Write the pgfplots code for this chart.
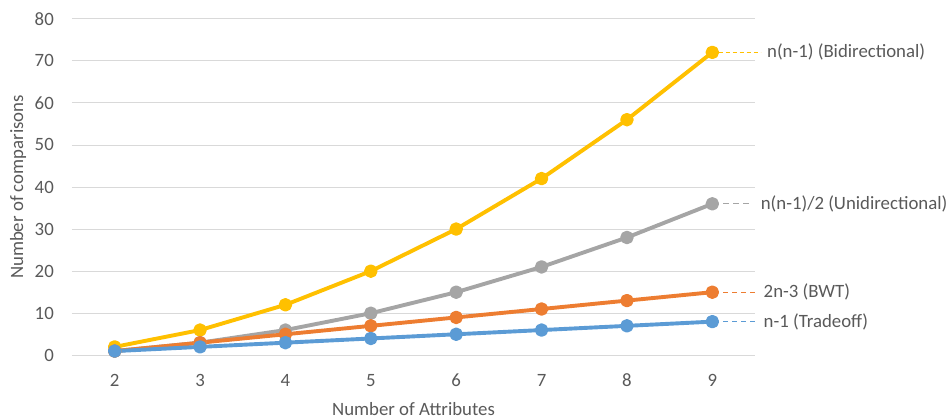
\documentclass[border=0pt]{standalone}
\usepackage{fontspec}
\setmainfont{Carlito}
\usepackage{pgfplots}
\pgfplotsset{compat=1.18}
\definecolor{cyel}{HTML}{FFC000}
\definecolor{cgray}{HTML}{A5A5A5}
\definecolor{corange}{HTML}{ED7D31}
\definecolor{cblue}{HTML}{5B9BD5}
\definecolor{gridc}{HTML}{D9D9D9}
\definecolor{tickc}{HTML}{595959}
\newcommand{\cfont}{\fontsize{18.8bp}{22bp}\selectfont}
\begin{document}
\begin{tikzpicture}
\begin{axis}[
 scale only axis, width=683bp, height=336.6bp,
 xmin=1.5, xmax=9.5, ymin=0, ymax=80,
 xtick={2,3,4,5,6,7,8,9}, ytick={0,10,20,30,40,50,60,70,80},
 ymajorgrids, grid style={draw=gridc, line width=0.75bp},
 axis line style={draw=none}, major tick length=0pt,
 tick label style={font=\cfont, text=tickc, inner sep=0pt},
 yticklabel style={anchor=east, xshift=-18bp},
 xticklabel style={anchor=base, yshift=-31.4bp},
 /pgf/number format/assume math mode=true,
 clip=false,
 every axis plot/.append style={line width=3.9bp, line join=round, line cap=round, mark=*, mark size=4.8bp, mark options={solid, line width=0.8bp}},
]
\coordinate (sw) at (rel axis cs:0,0);
\addplot[cyel, mark options={fill=cyel}] coordinates {(2,2) (3,6) (4,12) (5,20) (6,30) (7,42) (8,56) (9,72)};
\addplot[cgray, mark options={fill=cgray}] coordinates {(2,1) (3,3) (4,6) (5,10) (6,15) (7,21) (8,28) (9,36)};
\addplot[corange, mark options={fill=corange}] coordinates {(2,1) (3,3) (4,5) (5,7) (6,9) (7,11) (8,13) (9,15)};
\addplot[cblue, mark options={fill=cblue}] coordinates {(2,1) (3,2) (4,3) (5,4) (6,5) (7,6) (8,7) (9,8)};
\draw[cyel, line width=0.75bp, dash pattern=on 4bp off 3bp] (axis cs:9.074,72) -- (axis cs:9.566,72);
\draw[cgray, line width=0.75bp, dash pattern=on 6bp off 4bp] (axis cs:9.13,36) -- (axis cs:9.43,36);
\draw[corange, line width=0.75bp, dash pattern=on 5bp off 4bp] (axis cs:9.13,15) -- (axis cs:9.51,15);
\draw[cblue, line width=0.75bp, dash pattern=on 5bp off 4bp] (axis cs:9.13,8) -- (axis cs:9.51,8);
\node[anchor=west, text=tickc, font=\cfont, inner sep=0pt] at (axis cs:9.64,72) {n(n-1) (Bidirectional)};
\node[anchor=west, text=tickc, font=\cfont, inner sep=0pt] at (axis cs:9.566,36) {n(n-1)/2 (Unidirectional)};
\node[anchor=west, text=tickc, font=\cfont, inner sep=0pt] at (axis cs:9.6,15) {2n-3 (BWT)};
\node[anchor=west, text=tickc, font=\cfont, inner sep=0pt] at (axis cs:9.6,8) {n-1 (Tradeoff)};
\end{axis}
\node[anchor=base, text=tickc, font=\cfont, inner sep=0pt] at ([xshift=341.5bp, yshift=-59.7bp]sw) {Number of Attributes};
\node[anchor=center, rotate=90, text=tickc, font=\cfont, inner sep=0pt] at ([xshift=-54bp, yshift=168.3bp]sw) {Number of comparisons};
\pgfresetboundingbox
\path ([xshift=-72bp, yshift=-63.7bp]sw) rectangle ++(949bp,419bp);
\end{tikzpicture}
\end{document}
